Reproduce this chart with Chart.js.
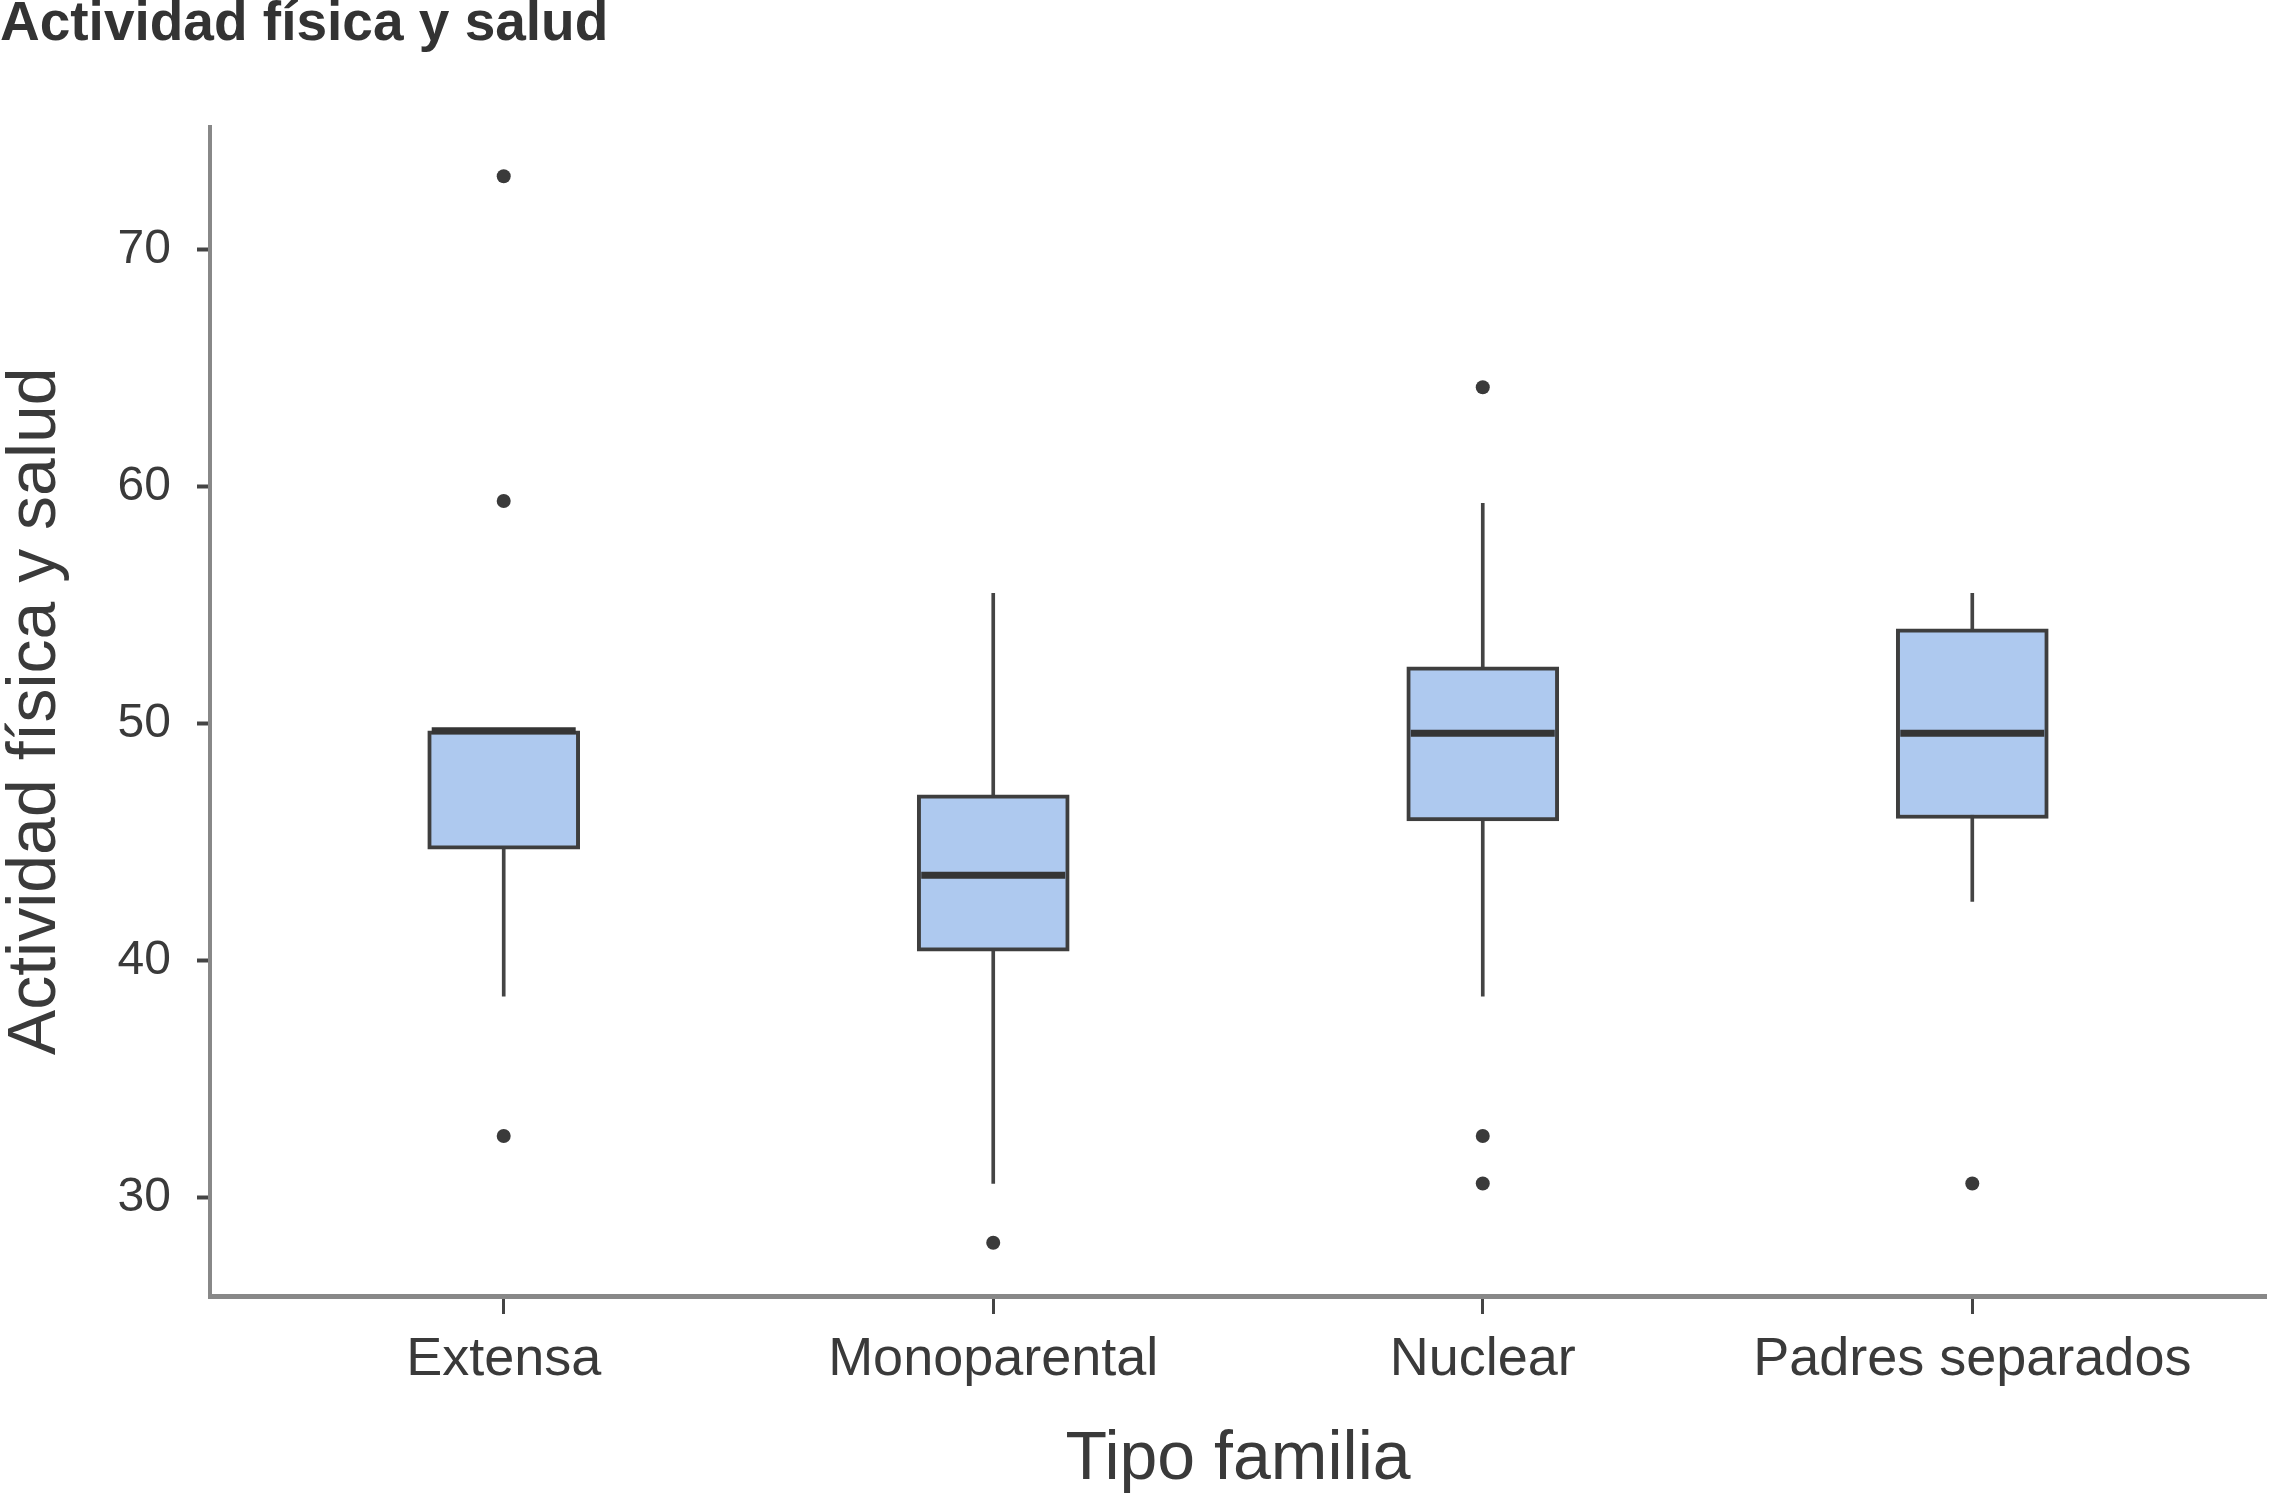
<!DOCTYPE html>
<html>
<head>
<meta charset="utf-8">
<title>Actividad física y salud</title>
<script src="https://cdn.jsdelivr.net/npm/chart.js@4.4.1/dist/chart.umd.min.js"></script>
<style>
    html, body { margin: 0; padding: 0; background: #ffffff; }
    #wrap { width: 2271px; height: 1498px; position: relative; }
</style>
</head>
<body>
<div id="wrap"><canvas id="boxChart"></canvas></div>
<script>
// Datos
const categories = ['Extensa', 'Monoparental', 'Nuclear', 'Padres separados'];
const whiskerLow = [38.5, 30.6, 38.5, 42.5];
const whiskerHigh = [49.7, 55.5, 59.3, 55.5];
const q1 = [44.7, 40.4, 45.9, 46.0];
const medians = [49.7, 43.6, 49.6, 49.6];
const q3 = [49.7, 47.0, 52.4, 54.0];
const outliers = [
    [73.1, 59.4, 32.6],
    [28.1],
    [64.2, 32.6, 30.6],
    [30.6]
];
const yTicks = [30, 40, 50, 60, 70];

const textColor = '#3a3a3a';
const fontFamily = "'Liberation Sans', Arial, sans-serif";

// Construir los puntos para cada capa
const whiskerData = categories.map((c, i) => ({ x: i, y: [whiskerLow[i], whiskerHigh[i]] }));
const boxData = categories.map((c, i) => ({ x: i, y: [q1[i], q3[i]] }));
const medianData = categories.map((c, i) => ({ x: i, y: medians[i] }));
const outlierData = [];
outliers.forEach((list, i) => {
    list.forEach(v => outlierData.push({ x: i, y: v }));
});

const ctx = document.getElementById('boxChart').getContext('2d');
new Chart(ctx, {
    type: 'bar',
    data: {
        datasets: [
            {
                type: 'line',
                label: 'Mediana',
                data: medianData,
                showLine: false,
                pointStyle: 'line',
                pointRadius: 72,
                pointHoverRadius: 72,
                pointBorderWidth: 7,
                borderColor: '#353535',
                order: 0
            },
            {
                type: 'line',
                label: 'Atípicos',
                data: outlierData,
                showLine: false,
                pointStyle: 'circle',
                pointRadius: 7,
                pointHoverRadius: 7,
                pointBorderWidth: 0,
                backgroundColor: '#3a3a3a',
                borderColor: '#3a3a3a',
                order: 0
            },
            {
                label: 'Caja',
                data: boxData,
                grouped: false,
                barThickness: 152,
                backgroundColor: '#aec9ef',
                borderColor: '#3e3e3e',
                borderWidth: 4,
                borderSkipped: false,
                order: 1
            },
            {
                label: 'Bigotes',
                data: whiskerData,
                grouped: false,
                barThickness: 3,
                backgroundColor: '#444444',
                borderWidth: 0,
                order: 2
            }
        ]
    },
    options: {
        responsive: true,
        maintainAspectRatio: false,
        animation: false,
        layout: { autoPadding: false, padding: { left: 0, right: 5, top: 0, bottom: 0 } },
        plugins: {
            legend: { display: false },
            tooltip: { enabled: false },
            title: {
                display: true,
                text: 'Actividad física y salud',
                align: 'start',
                color: '#333333',
                font: { family: fontFamily, size: 55, weight: 'bold', lineHeight: 0.9 },
                padding: { top: 0, bottom: 77 }
            }
        },
        scales: {
            x: {
                type: 'linear',
                min: -0.6,
                max: 3.6,
                offset: false,
                afterBuildTicks: axis => {
                    axis.ticks = categories.map((c, i) => ({ value: i }));
                },
                afterFit: scale => {
                    scale.height = 202;
                    scale.paddingLeft = 0;
                    scale.paddingRight = 0;
                },
                ticks: {
                    callback: value => categories[value],
                    color: textColor,
                    font: { family: fontFamily, size: 54 },
                    padding: 14,
                    maxRotation: 0,
                    autoSkip: false
                },
                grid: {
                    offset: false,
                    drawOnChartArea: false,
                    drawTicks: true,
                    tickLength: 18,
                    tickWidth: 3,
                    tickColor: '#444444'
                },
                border: { display: true, color: '#888888', width: 5 },
                title: {
                    display: true,
                    text: 'Tipo familia',
                    color: textColor,
                    font: { family: fontFamily, size: 68, lineHeight: 1 },
                    padding: { top: 0, bottom: 4 }
                }
            },
            y: {
                type: 'linear',
                min: 25.85,
                max: 75.2,
                afterBuildTicks: axis => {
                    axis.ticks = yTicks.map(v => ({ value: v }));
                },
                afterFit: scale => { scale.width = 210; },
                ticks: {
                    color: textColor,
                    font: { family: fontFamily, size: 48 },
                    padding: 26
                },
                grid: {
                    drawOnChartArea: false,
                    drawTicks: true,
                    tickLength: 13,
                    tickWidth: 4,
                    tickColor: '#444444'
                },
                border: { display: true, color: '#888888', width: 4 },
                title: {
                    display: true,
                    text: 'Actividad física y salud',
                    color: textColor,
                    font: { family: fontFamily, size: 68, lineHeight: 1 },
                    padding: { top: 2, bottom: 0 }
                }
            }
        }
    }
});
</script>
</body>
</html>
